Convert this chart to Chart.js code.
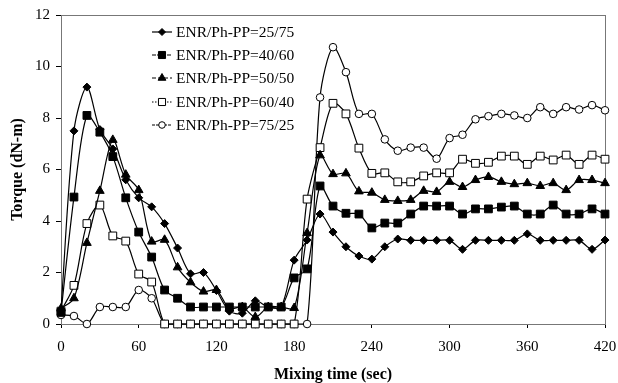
<!DOCTYPE html>
<html>
<head>
<meta charset="utf-8">
<title>Torque vs mixing time</title>
<script src="https://cdn.jsdelivr.net/npm/chart.js@4/dist/chart.umd.min.js"></script>
<style>
  html, body { margin: 0; padding: 0; background: #fff; }
  #wrap { width: 618px; height: 383px; position: relative; }
</style>
</head>
<body>
<div id="wrap"><canvas id="torque"></canvas></div>
<script>
'use strict';

// mixing time (sec), one reading every 10 s
var times = [0, 10, 20, 30, 40, 50, 60, 70, 80, 90, 100, 110, 120, 130, 140, 150, 160, 170, 180, 190,
  200, 210, 220, 230, 240, 250, 260, 270, 280, 290, 300, 310, 320, 330, 340, 350, 360, 370, 380, 390,
  400, 410, 420];

var seriesNames = ['ENR/Ph-PP=25/75', 'ENR/Ph-PP=40/60', 'ENR/Ph-PP=50/50', 'ENR/Ph-PP=60/40', 'ENR/Ph-PP=75/25'];

// torque (dN-m)
var enr25 = [0.55, 7.5, 9.2, 7.55, 6.8, 5.6, 4.9, 4.55, 3.9, 2.95, 1.95, 2.0, 1.3, 0.5, 0.42, 0.9, 0.66, 0.66, 2.48, 3.26,
  4.27, 3.57, 3.0, 2.64, 2.52, 3.0, 3.3, 3.25, 3.25, 3.25, 3.25, 2.9, 3.25, 3.25, 3.25, 3.25, 3.5, 3.25, 3.25, 3.25,
  3.25, 2.9, 3.26];
var enr40 = [0.45, 4.93, 8.1, 7.45, 6.5, 4.9, 3.57, 2.6, 1.32, 1.0, 0.66, 0.66, 0.66, 0.66, 0.66, 0.66, 0.66, 0.66, 1.79, 2.14,
  5.36, 4.58, 4.3, 4.27, 3.73, 3.92, 3.92, 4.27, 4.58, 4.58, 4.58, 4.27, 4.47, 4.47, 4.54, 4.58, 4.27, 4.27, 4.62, 4.27,
  4.27, 4.47, 4.27];
var enr50 = [0.6, 1.0, 3.15, 5.17, 7.15, 5.8, 5.2, 3.2, 3.27, 2.2, 1.62, 1.26, 1.32, 0.6, 0.66, 0.27, 0.66, 0.66, 0.62, 3.53,
  6.55, 5.82, 5.85, 5.15, 5.1, 4.82, 4.78, 4.82, 5.17, 5.13, 5.52, 5.32, 5.59, 5.71, 5.52, 5.43, 5.47, 5.36, 5.47, 5.2,
  5.59, 5.59, 5.47];
var enr60 = [0.5, 1.5, 3.9, 4.62, 3.42, 3.22, 1.94, 1.63, 0, 0, 0, 0, 0, 0, 0, 0, 0, 0, 0, 4.85,
  6.85, 8.57, 8.16, 6.83, 5.85, 5.87, 5.52, 5.52, 5.75, 5.87, 5.87, 6.4, 6.24, 6.28, 6.52, 6.52, 6.2, 6.52, 6.37, 6.56,
  6.2, 6.56, 6.4];
var enr75 = [0.35, 0.31, 0, 0.66, 0.66, 0.66, 1.32, 1.0, 0, 0, 0, 0, 0, 0, 0, 0, 0, 0, 0, 0,
  8.8, 10.75, 9.78, 8.16, 8.16, 7.17, 6.73, 6.85, 6.85, 6.42, 7.22, 7.35, 7.95, 8.07, 8.16, 8.1, 8.0, 8.42, 8.16, 8.42,
  8.33, 8.5, 8.3];

var xTicks = [0, 60, 120, 180, 240, 300, 360, 420];
var yTicks = [0, 2, 4, 6, 8, 10, 12];

var serif = "'Liberation Serif', 'Times New Roman', serif";

function points(values) {
  return times.map(function(t, i) { return { x: t, y: values[i] }; });
}

// marker per series: [pointStyle, fill, radius, legend dash]
var markers = [
  ['rectRot', '#000', 4, []],
  ['rect', '#000', 5.5, [4, 1]],
  ['triangle', '#000', 5, [4, 2]],
  ['rect', '#fff', 5.5, [1.5, 1.5]],
  ['circle', '#fff', 3.8, [3, 1]]
];

var datasets = [enr25, enr40, enr50, enr60, enr75].map(function(values, i) {
  var m = markers[i];
  return {
    label: seriesNames[i],
    data: points(values),
    borderColor: '#000',
    borderWidth: 1.2,
    backgroundColor: m[1],
    pointStyle: m[0],
    pointRadius: m[2],
    pointBorderWidth: 1,
    pointBackgroundColor: m[1],
    pointBorderColor: '#000',
    tension: 0.3,
    clip: false,
    legendDash: m[3]
  };
});

// thin grey frame round the plot area, axes are drawn over it in black
var frame = {
  id: 'frame',
  beforeDatasetsDraw: function(chart) {
    var a = chart.chartArea, ctx = chart.ctx;
    ctx.save();
    ctx.strokeStyle = '#777';
    ctx.lineWidth = 1;
    ctx.strokeRect(a.left + 0.5, a.top + 0.5, a.right - a.left, a.bottom - a.top);
    ctx.restore();
  }
};

// legend box inside the top-left of the plot
var innerLegend = {
  id: 'innerLegend',
  afterDatasetsDraw: function(chart) {
    var ctx = chart.ctx;
    var x0 = 152, x1 = 172, rowY = [32, 55, 78, 102, 125];
    ctx.save();
    ctx.font = '15.5px ' + serif;
    ctx.textBaseline = 'middle';
    ctx.fillStyle = '#000';
    chart.data.datasets.forEach(function(ds, i) {
      var y = rowY[i];
      ctx.strokeStyle = '#000';
      ctx.lineWidth = 1.2;
      ctx.setLineDash(ds.legendDash);
      ctx.beginPath();
      ctx.moveTo(x0, y);
      ctx.lineTo(x1, y);
      ctx.stroke();
      ctx.setLineDash([]);
      ctx.fillStyle = ds.pointBackgroundColor;
      ctx.lineWidth = 1;
      Chart.helpers.drawPoint(ctx, { pointStyle: ds.pointStyle, radius: ds.pointRadius - 0.5, borderWidth: 1, rotation: 0 }, (x0 + x1) / 2, y);
      ctx.fillStyle = '#000';
      ctx.fillText(ds.label, x1 + 4, y + 1);
    });
    ctx.restore();
  }
};

var ctx = document.getElementById('torque').getContext('2d');
var chart = new Chart(ctx, {
  type: 'line',
  data: { datasets: datasets },
  options: {
    responsive: true,
    maintainAspectRatio: false,
    animation: false,
    layout: { padding: { top: 15, right: 13, left: 0, bottom: 0 } },
    plugins: {
      legend: { display: false },
      tooltip: { enabled: false }
    },
    scales: {
      x: {
        type: 'linear',
        min: 0,
        max: 420,
        afterFit: function(scale) {
          scale.height = 59;
          scale.paddingLeft = 0;
          scale.paddingRight = 0;
        },
        afterBuildTicks: function(scale) {
          scale.ticks = xTicks.map(function(v) { return { value: v }; });
        },
        border: { display: true, color: '#000', width: 1 },
        grid: { display: true, drawOnChartArea: false, drawTicks: true, tickLength: 4, color: '#000' },
        ticks: { color: '#000', padding: 10, maxRotation: 0, font: { family: serif, size: 15 } },
        title: {
          display: true,
          text: 'Mixing time (sec)',
          color: '#000',
          padding: { top: 0, bottom: 0 },
          font: { family: serif, size: 16, weight: 'bold', lineHeight: 1 }
        }
      },
      y: {
        min: 0,
        max: 12,
        afterFit: function(scale) { scale.width = 61; },
        afterBuildTicks: function(scale) {
          scale.ticks = yTicks.map(function(v) { return { value: v }; });
        },
        border: { display: true, color: '#000', width: 1 },
        grid: { display: true, drawOnChartArea: false, drawTicks: true, tickLength: 5, color: '#000' },
        ticks: { color: '#000', padding: 6, font: { family: serif, size: 15 } },
        title: {
          display: true,
          text: 'Torque (dN-m)',
          color: '#000',
          padding: { top: 8, bottom: 0 },
          font: { family: serif, size: 16, weight: 'bold', lineHeight: 1.2 }
        }
      }
    }
  },
  plugins: [frame, innerLegend]
});
</script>
</body>
</html>
